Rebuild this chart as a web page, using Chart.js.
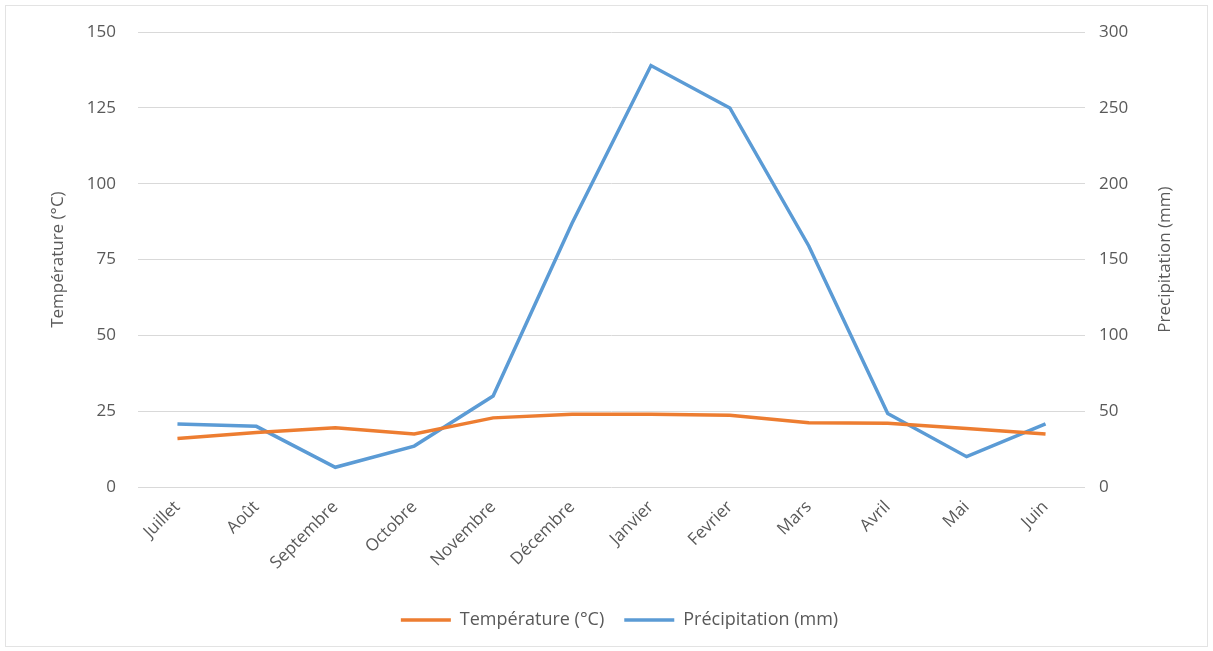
<!DOCTYPE html>
<html><head><meta charset="utf-8">
<script src="https://cdn.jsdelivr.net/npm/chart.js@4.4.1/dist/chart.umd.min.js"></script>
<style>
html,body{margin:0;padding:0;background:#fff;}
#wrap{position:absolute;left:0;top:0;width:1213px;height:651px;}
#frame{position:absolute;left:5px;top:5px;width:1201px;height:640px;border:1px solid #e3e3e3;pointer-events:none;}
</style></head>
<body>
<div id="wrap"><canvas id="c" width="1213" height="651"></canvas></div>
<div id="frame"></div>
<script>
const months = ["Juillet","Août","Septembre","Octobre","Novembre","Décembre","Janvier","Fevrier","Mars","Avril","Mai","Juin"];
const temperature = [16, 18, 19.5, 17.5, 22.8, 24, 24, 23.7, 21.2, 21, 19.3, 17.5];
const precipitation = [41.5, 40, 13, 27, 60, 174, 278, 250, 159, 48.5, 20, 41.7];
const tempTicks = [0, 25, 50, 75, 100, 125, 150];
const precTicks = [0, 50, 100, 150, 200, 250, 300];
const rightTitle = 'Precipitation (mm)';

const FONT = "'Open Sans', 'Liberation Sans', sans-serif";
const GREY = '#595959';

const rightTitlePlugin = {
  id: 'rightTitle',
  afterDraw(chart) {
    const ctx = chart.ctx;
    const s = chart.scales.y1;
    const ca = chart.chartArea;
    ctx.save();
    ctx.translate(s.right - 28, (ca.top + ca.bottom) / 2);
    ctx.rotate(-Math.PI / 2);
    ctx.fillStyle = GREY;
    ctx.font = "17px " + FONT;
    ctx.textAlign = 'center';
    ctx.textBaseline = 'middle';
    ctx.fillText(rightTitle, 0, 0);
    ctx.restore();
  }
};

new Chart(document.getElementById('c'), {
  type: 'line',
  data: {
    labels: months,
    datasets: [
      { label: 'Température (°C)', data: temperature, yAxisID: 'y', borderColor: '#ED7D31', backgroundColor: '#ED7D31', borderWidth: 3.5, pointRadius: 0, tension: 0 },
      { label: 'Précipitation (mm)', data: precipitation, yAxisID: 'y1', borderColor: '#5B9BD5', backgroundColor: '#5B9BD5', borderWidth: 3.5, pointRadius: 0, tension: 0 }
    ]
  },
  plugins: [rightTitlePlugin],
  options: {
    responsive: false,
    animation: false,
    layout: { padding: { left: 46, right: 20, top: 26, bottom: 12 } },
    plugins: {
      legend: {
        position: 'bottom',
        labels: { usePointStyle: true, pointStyle: 'line', pointStyleWidth: 50, boxHeight: 3, color: GREY, font: { family: FONT, size: 18 }, padding: 20 }
      },
      tooltip: { enabled: false }
    },
    scales: {
      x: {
        offset: true,
        grid: { display: false },
        border: { display: false },
        ticks: { color: GREY, font: { family: FONT, size: 17 }, minRotation: 45, maxRotation: 45, padding: 2 },
        afterFit: s => { s.height = 104; }
      },
      y: {
        position: 'left', min: 0, max: 150,
        afterBuildTicks: s => { s.ticks = tempTicks.map(v => ({ value: v })); },
        grid: { color: '#d9d9d9', lineWidth: 1, drawTicks: false },
        border: { display: false },
        ticks: { color: GREY, font: { family: FONT, size: 17 }, padding: 22 },
        title: { display: true, text: 'Température (°C)', color: GREY, font: { family: FONT, size: 17 }, padding: 2 },
        afterFit: s => { s.width = 92; }
      },
      y1: {
        position: 'right', min: 0, max: 300,
        afterBuildTicks: s => { s.ticks = precTicks.map(v => ({ value: v })); },
        grid: { display: false, drawTicks: false },
        border: { display: false },
        ticks: { color: GREY, font: { family: FONT, size: 17 }, padding: 14 },
        afterFit: s => { s.width = 108; }
      }
    }
  }
});
</script>
</body></html>
